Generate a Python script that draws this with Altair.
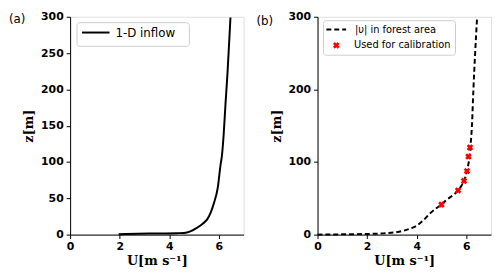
import altair as alt
import pandas as pd

# Panel (a): 1-D inflow profile
u_a = [1.96, 3.2, 4.3, 4.6, 4.85, 5.13, 5.35, 5.53, 5.68, 5.8, 5.96, 6.07, 6.13, 6.2, 6.27, 6.35, 6.41, 6.47]
z_a = [0.5, 1.5, 2.0, 2.3, 4.5, 9.7, 15, 21, 31, 43, 65, 96, 110, 140, 180, 222, 260, 299]

# Panel (b): |v| in forest area
u_b = [0.0, 0.6, 1.2, 2.0, 2.67, 3.1, 3.47, 3.75, 4.0, 4.25, 4.53, 4.78, 5.0, 5.18, 5.33, 5.5, 5.67, 5.8, 5.91, 6.03, 6.13, 6.18, 6.23, 6.29, 6.36, 6.44]
z_b = [0.0, 0.2, 0.5, 0.9, 1.7, 3.0, 5.3, 8.5, 12.4, 19, 28.8, 36, 41.3, 47, 51, 55, 60.8, 67, 74, 87.5, 107.5, 125, 150, 200, 250, 300]

# Points used for calibration
u_cal = [5.0, 5.67, 5.91, 6.03, 6.09, 6.15]
z_cal = [41.3, 60.8, 74, 87.5, 107.5, 120]

x_ticks = [0, 2, 4, 6]
y_ticks = [0, 50, 100, 150, 200, 250, 300]

W, H = 176, 221
SANS = "DejaVu Sans"
SERIF = "DejaVu Serif"

xscale = alt.Scale(domain=[0, 7], nice=False, zero=False)
yscale = alt.Scale(domain=[0, 300], nice=False)

def xaxis():
    return alt.Axis(values=x_ticks, grid=False, title="U[m s⁻¹]", titleFont=SERIF,
                    titleFontSize=13, titleFontWeight="bold", titleColor="black",
                    labelFont=SANS, labelFontSize=11, labelFontWeight="bold",
                    labelColor="black", domainColor="black", tickColor="black",
                    tickSize=4, labelPadding=2, titlePadding=3, labelFlush=False)

def yaxis():
    return alt.Axis(values=y_ticks, grid=False, title="z[m]", titleFont=SERIF,
                    titleFontSize=13, titleFontWeight="bold", titleColor="black",
                    labelFont=SANS, labelFontSize=11, labelFontWeight="bold",
                    labelColor="black", domainColor="black", tickColor="black",
                    tickSize=4, labelPadding=3, titlePadding=5, labelFlush=False)

one = alt.Data(values=[{}])

# ---- panel (a)
df_a = pd.DataFrame({"U": u_a, "z": z_a})
line_a = alt.Chart(df_a).mark_line(color="black", strokeWidth=2, interpolate="monotone").encode(
    x=alt.X("U:Q", scale=xscale, axis=xaxis()),
    y=alt.Y("z:Q", scale=yscale, axis=yaxis()),
    order="z:Q",
)
leg_box_a = alt.Chart(one).mark_rect(fill="white", stroke="#cccccc", strokeWidth=1, cornerRadius=3).encode(
    x=alt.value(7), x2=alt.value(121), y=alt.value(6), y2=alt.value(30))
leg_line_a = alt.Chart(one).mark_rule(color="black", strokeWidth=2).encode(
    x=alt.value(12), x2=alt.value(40), y=alt.value(16))
leg_text_a = alt.Chart(one).mark_text(text="1-D inflow", font=SANS, fontSize=12, align="left",
                                      baseline="middle", color="black").encode(
    x=alt.value(46), y=alt.value(17))
tag_a = alt.Chart(one).mark_text(text="(a)", font=SANS, fontSize=12, align="left",
                                 baseline="middle", color="black").encode(
    x=alt.value(-62), y=alt.value(2))
panel_a = alt.layer(line_a, leg_box_a, leg_line_a, leg_text_a, tag_a).properties(width=W, height=H)

# ---- panel (b)
df_b = pd.DataFrame({"U": u_b, "z": z_b})
df_c = pd.DataFrame({"U": u_cal, "z": z_cal})
line_b = alt.Chart(df_b).mark_line(color="black", strokeWidth=2, strokeDash=[5, 3], interpolate="monotone").encode(
    x=alt.X("U:Q", scale=xscale, axis=xaxis()),
    y=alt.Y("z:Q", scale=yscale, axis=yaxis()),
    order="z:Q",
)
pts_b = alt.Chart(df_c).mark_point(shape="cross", angle=45, filled=True, color="red", opacity=1, size=45).encode(
    x=alt.X("U:Q", scale=xscale),
    y=alt.Y("z:Q", scale=yscale),
)
leg_box_b = alt.Chart(one).mark_rect(fill="white", stroke="#cccccc", strokeWidth=1, cornerRadius=3).encode(
    x=alt.value(6), x2=alt.value(140), y=alt.value(4), y2=alt.value(39))
leg_line_b = alt.Chart(one).mark_rule(color="black", strokeWidth=2, strokeDash=[5, 3]).encode(
    x=alt.value(9), x2=alt.value(29), y=alt.value(13))
leg_pt_b = alt.Chart(one).mark_point(shape="cross", angle=45, filled=True, color="red", opacity=1, size=45).encode(
    x=alt.value(19), y=alt.value(29))
leg_text_b1 = alt.Chart(one).mark_text(text="|υ| in forest area", font=SANS, fontSize=10, align="left",
                                       baseline="middle", color="black").encode(
    x=alt.value(38), y=alt.value(13))
leg_text_b2 = alt.Chart(one).mark_text(text="Used for calibration", font=SANS, fontSize=10, align="left",
                                       baseline="middle", color="black").encode(
    x=alt.value(37), y=alt.value(29))
tag_b = alt.Chart(one).mark_text(text="(b)", font=SANS, fontSize=12, align="left",
                                 baseline="middle", color="black").encode(
    x=alt.value(-62), y=alt.value(4))
panel_b = alt.layer(line_b, pts_b, leg_box_b, leg_line_b, leg_pt_b, leg_text_b1, leg_text_b2, tag_b).properties(width=W, height=H)

chart = alt.hconcat(panel_a, panel_b, spacing=11).properties(
    padding={"left": 0, "top": 0, "right": 0, "bottom": 0}
).configure_view(stroke="black", strokeWidth=1).configure(background="white")

chart.save("out.html", embed_options={"renderer": "svg", "actions": False})
